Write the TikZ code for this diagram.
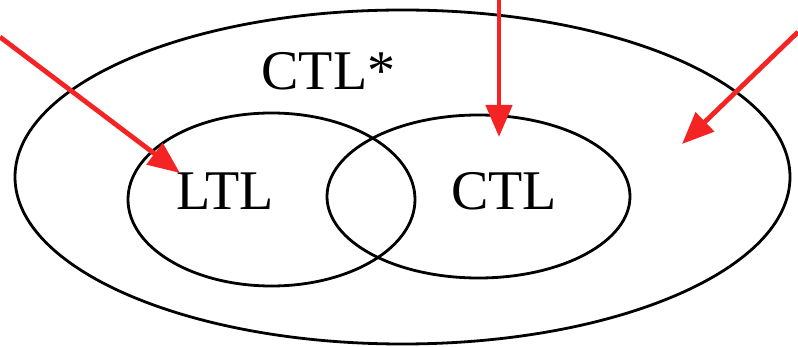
\documentclass[tikz,border=0pt]{standalone}
\usepackage{fontspec}
\setmainfont{Liberation Serif}
\usetikzlibrary{shapes.geometric,arrows.meta}
\definecolor{pijlrood}{RGB}{245,36,36}

\begin{document}
\begin{tikzpicture}[x=1pt,y=-1pt,
        every node/.style={font=\fontsize{56}{62}\selectfont},
        verz/.style={draw=black,line width=2.8pt,ellipse,inner sep=0pt},
        pijl/.style={-{Triangle[length=32pt,width=26pt]},pijlrood,line width=4.8pt},
      ]
      \useasboundingbox (0,0) rectangle (798,347);
      % verzamelingen
      \node[verz,minimum width=775pt,minimum height=334pt] (ctlsterset) at (402.5,177) {};
      \node[verz,minimum width=287pt,minimum height=173pt] (ltlset) at (271.5,199.5) {};
      \node[verz,minimum width=303pt,minimum height=163pt] (ctlset) at (478.5,196.5) {};
      % namen
      \node[anchor=base] (ctlster) at (328.5,90) {CTL*};
      \node[anchor=base] (ltl) at (225,210) {LTL};
      \node[anchor=base] (ctl) at (504,210) {CTL};
      % pijlen
      \coordinate (b1) at (0,37);   \coordinate (e1) at (180,173);
      \coordinate (b2) at (499,0);  \coordinate (e2) at (499,137);
      \coordinate (b3) at (798,32); \coordinate (e3) at (682,144);
      \draw[pijl] (b1)--(e1); \draw[pijl] (b2)--(e2); \draw[pijl] (b3)--(e3);
    \end{tikzpicture}
\end{document}
